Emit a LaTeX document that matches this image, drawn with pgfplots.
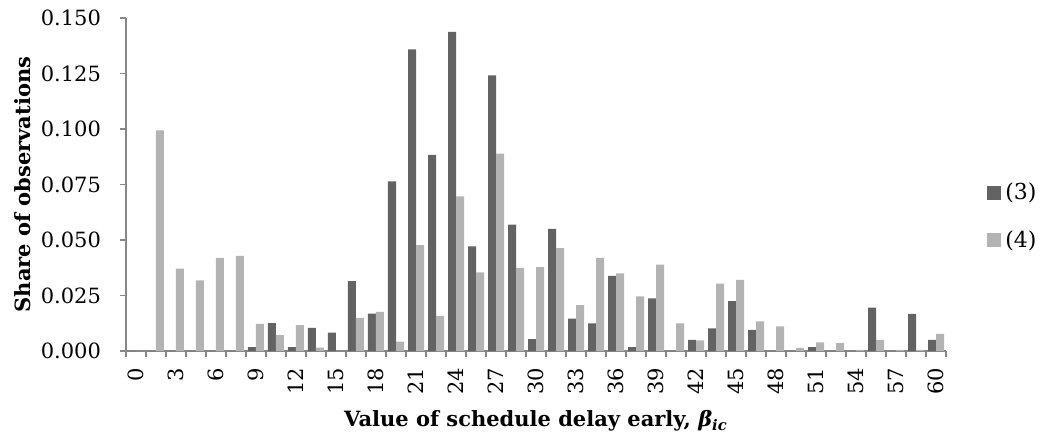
\documentclass[border=0pt]{standalone}
\usepackage{pgfplots}
\pgfplotsset{compat=1.18}
\usepackage{pgfplotstable}
\usepackage{fontspec}
\setmainfont{DejaVu Serif}

\definecolor{sthree}{RGB}{99,99,99}
\definecolor{sfour}{RGB}{179,179,179}
\definecolor{axgray}{RGB}{134,134,134}

% idx: category index (0 = 0, 1 = 1.5, 2 = 3, ...)
\pgfplotstableread{
idx s3     s4
0   0      0
1   0      0.0994
2   0      0.0371
3   0      0.0318
4   0      0.0420
5   0      0.0428
6   0.0017 0.0122
7   0.0126 0.0072
8   0.0017 0.0117
9   0.0104 0.0015
10  0.0083 0
11  0.0315 0.0149
12  0.0168 0.0176
13  0.0764 0.0042
14  0.1359 0.0477
15  0.0884 0.0158
16  0.1437 0.0697
17  0.0471 0.0354
18  0.1242 0.0889
19  0.0569 0.0374
20  0.0054 0.0378
21  0.0550 0.0464
22  0.0146 0.0207
23  0.0125 0.0420
24  0.0338 0.0350
25  0.0017 0.0246
26  0.0237 0.0389
27  0      0.0125
28  0.0050 0.0048
29  0.0102 0.0303
30  0.0225 0.0320
31  0.0095 0.0134
32  0      0.0111
33  0      0.0014
34  0.0018 0.0039
35  0      0.0036
36  0      0.0005
37  0.0195 0.0050
38  0      0.0005
39  0.0167 0.0005
40  0.0050 0.0077
}\shares

\begin{document}
\begin{tikzpicture}
\begin{axis}[
  scale only axis,
  width=410pt, height=166.5pt,
  ybar=0pt, bar width=0.4,
  xmin=-0.5, xmax=40.5, ymin=0, ymax=0.15,
  axis lines=left,
  axis line style={-, axgray, line width=0.8pt},
  tick align=outside,
  tick style={axgray, line width=0.8pt},
  major tick length=3pt, minor tick length=3pt,
  xtick={0,2,...,40},
  xticklabels={0,3,6,9,12,15,18,21,24,27,30,33,36,39,42,45,48,51,54,57,60},
  minor xtick={-0.5,0.5,...,40.5},
  x tick style={draw=none},
  minor x tick style={draw=axgray, line width=0.8pt},
  ytick={0,0.025,0.05,0.075,0.1,0.125,0.15},
  /pgf/number format/fixed, /pgf/number format/fixed zerofill,
  /pgf/number format/precision=3, /pgf/number format/assume math mode=true,
  yticklabel style={font=\fontsize{10.5}{12}\selectfont, xshift=-6pt},
  xticklabel style={rotate=90, anchor=east, font=\fontsize{10.5}{12}\selectfont},
  xticklabel shift=2pt,
  xlabel={\textbf{Value of schedule delay early, \textit{β}\textsubscript{\textit{ic}}}},
  ylabel={\textbf{Share of observations}},
  xlabel style={at={(axis description cs:0.5,-0.228)}, anchor=base, font=\fontsize{10.5}{12}\selectfont},
  ylabel style={at={(axis description cs:-0.117,0.5)}, anchor=base, font=\fontsize{10.5}{12}\selectfont},
  legend style={at={(axis description cs:1.05,0.404)}, anchor=west, draw=none, fill=none,
    font=\fontsize{11}{13}\selectfont, row sep=10pt, inner sep=0pt},
  legend cell align=left,
]
\addplot[fill=sthree, draw=none,
  legend image code/.code={\fill[sthree] (0pt,-3.5pt) rectangle (7pt,3.5pt);}]
  table[x=idx, y=s3] {\shares};
\addlegendentry{(3)}
\addplot[fill=sfour, draw=none,
  legend image code/.code={\fill[sfour] (0pt,-3.5pt) rectangle (7pt,3.5pt);}]
  table[x=idx, y=s4] {\shares};
\addlegendentry{(4)}
\end{axis}
\pgfresetboundingbox
\path (-63pt,-45pt) rectangle (459pt,175.5pt);
\end{tikzpicture}
\end{document}
